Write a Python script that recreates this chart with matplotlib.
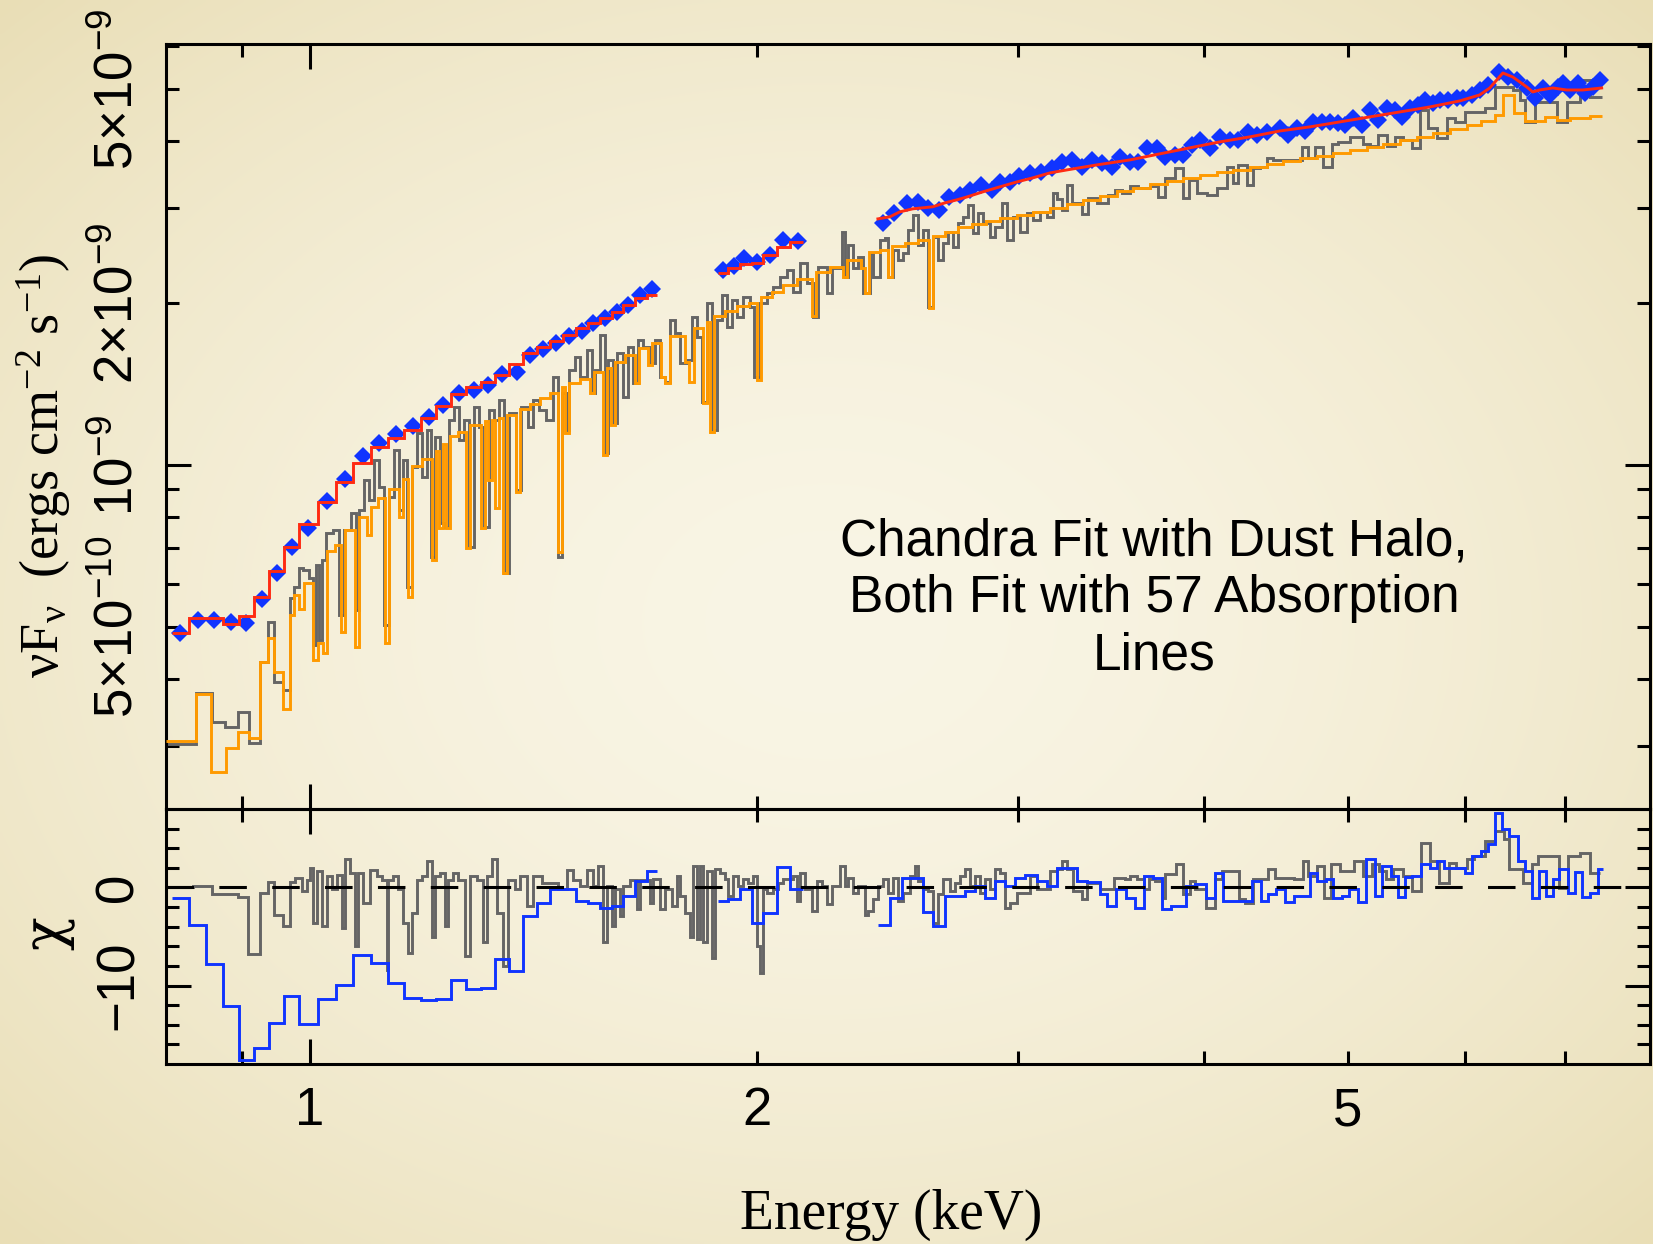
import numpy as np
import matplotlib
matplotlib.use("Agg")
import matplotlib.pyplot as plt
from matplotlib.ticker import FixedLocator, FuncFormatter, NullFormatter

plt.rcParams['mathtext.fontset'] = 'custom'
plt.rcParams['mathtext.rm'] = 'Liberation Serif'
plt.rcParams['mathtext.it'] = 'Liberation Serif:italic'
plt.rcParams['mathtext.sf'] = 'Liberation Sans'
plt.rcParams['font.family'] = ['Liberation Sans', 'DejaVu Sans']

# ---------------- data (energy in keV, flux in 1e-9 erg cm^-2 s^-1) ----------------
# first instrument data (blue diamonds), three segments
blue1_E = [0.818, 0.841, 0.862, 0.885, 0.906, 0.928, 0.950, 0.973, 0.997, 1.027, 1.056, 1.086, 1.113, 1.143,
           1.173, 1.203, 1.229, 1.260, 1.289, 1.318, 1.347, 1.378, 1.406, 1.435, 1.465, 1.494, 1.525, 1.551,
           1.580, 1.609, 1.638, 1.669, 1.699]
blue1_F = [0.487, 0.515, 0.515, 0.511, 0.508, 0.564, 0.630, 0.704, 0.764, 0.857, 0.942, 1.039, 1.099, 1.142,
           1.182, 1.228, 1.293, 1.360, 1.378, 1.408, 1.476, 1.489, 1.601, 1.643, 1.686, 1.737, 1.775, 1.836,
           1.876, 1.925, 1.984, 2.070, 2.124]
blue1_edges = [0.807, 0.829, 0.851, 0.874, 0.896, 0.917, 0.938, 0.960, 0.983, 1.012, 1.041, 1.069, 1.099,
               1.129, 1.157, 1.188, 1.216, 1.244, 1.274, 1.304, 1.332, 1.362, 1.391, 1.422, 1.451, 1.480,
               1.511, 1.539, 1.567, 1.597, 1.625, 1.656, 1.686, 1.713]
red1_F = [0.487, 0.518, 0.518, 0.506, 0.524, 0.568, 0.635, 0.704, 0.777, 0.854, 0.930, 1.009, 1.080, 1.122,
          1.162, 1.223, 1.287, 1.355, 1.396, 1.427, 1.470, 1.541, 1.615, 1.657, 1.700, 1.745, 1.798, 1.836,
          1.876, 1.925, 1.984, 2.043, 2.070]
resid1 = [-1.05, -3.8, -7.8, -12.1, -17.6, -16.4, -13.8, -11.1, -13.9, -11.4, -9.9, -6.9, -7.7, -9.7, -11.3,
          -11.5, -11.4, -9.4, -10.4, -10.3, -7.3, -8.5, -2.9, -1.6, -0.2, -0.2, -1.4, -1.6, -2.07, -1.9,
          -0.88, 0.65, 1.67]

blue2_E = [1.897, 1.930, 1.960, 2.000, 2.041, 2.083, 2.131]
blue2_F = [2.303, 2.343, 2.424, 2.383, 2.455, 2.619, 2.608]
blue2_edges = [1.883, 1.912, 1.948, 1.984, 2.018, 2.062, 2.105, 2.148]
red2_F = [2.276, 2.323, 2.363, 2.373, 2.455, 2.541, 2.597]
resid2 = [-1.4, -1.2, -0.2, -3.6, -2.6, 2.1, -0.2]

blue3_E = [2.431, 2.473, 2.523, 2.567, 2.607, 2.652, 2.693, 2.739, 2.782, 2.830, 2.879, 2.915, 2.961, 3.002,
           3.054, 3.107, 3.160, 3.209, 3.260, 3.311, 3.362, 3.415, 3.468, 3.512, 3.567, 3.611, 3.662, 3.719,
           3.765, 3.823, 3.871, 3.925, 3.975, 4.037, 4.100, 4.164, 4.216, 4.281, 4.342, 4.410, 4.500, 4.556,
           4.619, 4.677, 4.736, 4.802, 4.862, 4.923, 4.977, 5.039, 5.110, 5.174, 5.239, 5.313, 5.378, 5.437,
           5.504, 5.573, 5.634, 5.704, 5.766, 5.838, 5.920, 5.975, 6.060, 6.135, 6.213, 6.320, 6.408, 6.498,
           6.600, 6.682, 6.766, 6.840, 6.925, 6.980, 7.055, 7.144, 7.222, 7.311, 7.391]
blue3_F = [2.818, 2.941, 3.069, 3.083, 3.005, 2.979, 3.148, 3.176, 3.245, 3.315, 3.245, 3.357, 3.357, 3.445,
           3.489, 3.504, 3.565, 3.658, 3.689, 3.580, 3.689, 3.642, 3.580, 3.737, 3.658, 3.658, 3.884, 3.884,
           3.737, 3.770, 3.770, 3.934, 4.019, 3.884, 4.071, 4.019, 4.019, 4.159, 4.106, 4.159, 4.231, 4.106,
           4.231, 4.176, 4.341, 4.341, 4.341, 4.322, 4.285, 4.416, 4.285, 4.570, 4.378, 4.609, 4.570, 4.435,
           4.609, 4.668, 4.769, 4.709, 4.769, 4.769, 4.810, 4.810, 4.872, 4.977, 5.085, 5.376, 5.262, 5.195,
           5.020, 4.810, 5.020, 4.872, 5.041, 5.129, 4.977, 5.129, 4.914, 5.041, 5.195]
red3_E = [2.413, 2.458, 2.496, 2.547, 2.627, 2.677, 2.727, 2.770, 2.839, 2.915, 2.993, 3.068, 3.150, 3.234,
          3.388, 3.567, 3.736, 3.913, 4.100, 4.295, 4.500, 4.714, 4.939, 5.174, 5.420, 5.678, 5.948, 6.135,
          6.232, 6.300, 6.360, 6.458, 6.529, 6.600, 6.662, 6.734, 6.871, 7.022, 7.199, 7.413]
red3_F = [2.866, 2.891, 2.953, 2.992, 3.018, 3.069, 3.109, 3.148, 3.217, 3.287, 3.357, 3.416, 3.489, 3.534,
          3.611, 3.689, 3.786, 3.884, 3.985, 4.071, 4.176, 4.249, 4.341, 4.435, 4.530, 4.628, 4.749, 4.872,
          5.020, 5.195, 5.353, 5.262, 5.151, 5.041, 4.935, 4.977, 5.020, 4.977, 4.977, 5.020]
resid3_edges = [2.413, 2.458, 2.504, 2.587, 2.627, 2.676, 2.761, 2.804, 2.848, 2.893, 2.938, 2.984, 3.031,
                3.088, 3.136, 3.185, 3.285, 3.337, 3.404, 3.441, 3.490, 3.544, 3.594, 3.645, 3.696, 3.748,
                3.800, 3.890, 3.944, 4.012, 4.069, 4.120, 4.190, 4.309, 4.369, 4.416, 4.472, 4.534, 4.599,
                4.663, 4.714, 4.765, 4.833, 4.885, 4.954, 5.008, 5.079, 5.142, 5.214, 5.271, 5.345, 5.404,
                5.462, 5.522, 5.600, 5.678, 5.740, 5.803, 5.848, 5.931, 5.995, 6.060, 6.145, 6.213, 6.280,
                6.348, 6.417, 6.508, 6.579, 6.651, 6.724, 6.797, 6.871, 6.935, 7.033, 7.109, 7.187, 7.277,
                7.368, 7.425]
resid3 = [-3.8, -1.05, 0.99, -2.5, -3.9, -0.88, -0.37, 0.14, -1.05, 0.65, 0.14, 0.99, 1.3, 0.65, 0.14, 2.0,
          0.65, 0.55, -0.71, -1.84, -0.2, -1.05, -2.07, 1.16, 0.99, -2.18, -1.84, 0.14, 0.31, -1.05, 1.5,
          -1.39, -1.39, 0.65, -1.39, -0.71, -0.2, -1.5, -0.88, -0.88, 1.5, 0.65, 0.82, -1.05, -0.88, -0.2,
          -1.5, 2.9, -0.88, 2.15, 1.16, -0.95, 1.09, 1.16, 2.35, 2.0, 2.69, 2.0, 2.0, 2.0, 1.5, 3.2, 3.71,
          4.39, 7.62, 5.92, 5.24, 2.69, 1.67, -1.05, 1.67, -0.9, 0.82, 1.84, -0.54, 1.6, -0.95, -0.54, 1.84]

# Chandra data (gray histogram)
chandra_edges = [
    0.800, 0.838, 0.859, 0.877, 0.894, 0.910, 0.925, 0.937, 0.946, 0.959, 0.969, 0.975, 0.983, 0.989, 0.998,
    1.005, 1.009, 1.014, 1.019, 1.025,
    1.036, 1.046, 1.054, 1.066, 1.074, 1.079, 1.087, 1.096, 1.104, 1.113,
    1.121, 1.130, 1.139, 1.148, 1.155, 1.162, 1.171, 1.180, 1.190, 1.199,
    1.206, 1.214, 1.223, 1.231, 1.240, 1.250, 1.260, 1.270, 1.280, 1.290,
    1.300, 1.310, 1.320, 1.330, 1.341, 1.351, 1.362, 1.376, 1.387, 1.402,
    1.413, 1.426, 1.442, 1.458, 1.469, 1.478, 1.489, 1.494, 1.508, 1.520,
    1.536, 1.548, 1.555, 1.567, 1.580, 1.587, 1.600, 1.610, 1.625, 1.637,
    1.650, 1.663, 1.676, 1.694, 1.708, 1.721, 1.734, 1.748, 1.762, 1.775,
    1.795, 1.809, 1.823, 1.837, 1.851, 1.866, 1.880, 1.894, 1.909, 1.924,
    1.939, 1.957, 1.978, 1.992, 2.009, 2.031, 2.050, 2.073, 2.095, 2.115,
    2.138, 2.161, 2.182, 2.198, 2.229, 2.246, 2.281, 2.292, 2.303, 2.321,
    2.339, 2.357, 2.383, 2.394, 2.420, 2.439, 2.451, 2.470, 2.489, 2.508,
    2.528, 2.547, 2.567, 2.587, 2.607, 2.627, 2.648, 2.668, 2.689, 2.710,
    2.731, 2.753, 2.774, 2.796, 2.818, 2.839, 2.870, 2.893, 2.924, 2.947,
    2.975, 3.007, 3.040, 3.068, 3.102, 3.136, 3.165, 3.185, 3.209, 3.234,
    3.260, 3.311, 3.342, 3.388, 3.447, 3.484, 3.522, 3.566, 3.611, 3.679,
    3.724, 3.765, 3.823, 3.872, 3.908, 3.957, 4.019, 4.081, 4.145, 4.183,
    4.216, 4.275, 4.315, 4.362, 4.410, 4.451, 4.656,
    4.699, 4.751, 4.810, 4.878, 4.923, 5.016, 5.071, 5.118, 5.174, 5.239,
    5.312, 5.378, 5.445, 5.522, 5.591, 5.660, 5.740, 5.830, 5.903, 5.995,
    6.070, 6.183, 6.280, 6.329, 6.458, 6.529, 6.579, 6.682, 6.766, 6.914,
    7.022, 7.165, 7.277, 7.413]
chandra_F = [
    0.302, 0.377, 0.332, 0.326, 0.347, 0.304, 0.429, 0.511, 0.395, 0.382, 0.566, 0.593, 0.644, 0.638, 0.617,
    0.463, 0.652, 0.473, 0.666,
    0.748, 0.757, 0.526, 0.757, 0.814, 0.538, 0.825, 0.938, 0.861, 1.022,
    0.910, 0.504, 0.872, 1.066, 0.825, 1.022, 0.593, 0.992, 1.147, 0.950,
    1.162, 0.675, 1.127, 0.780, 0.767, 1.212, 1.282, 1.113, 1.212, 0.704,
    1.282, 1.177, 0.767, 1.265, 1.212, 1.321, 0.630, 1.249, 0.899, 1.282,
    1.177, 1.321, 1.265, 1.212, 1.458, 0.675, 1.361, 1.162, 1.502, 1.588,
    1.458, 1.636, 1.361, 1.502, 1.745, 1.053, 1.567, 1.197, 1.615, 1.338,
    1.657, 1.420, 1.707, 1.657, 1.547, 1.707, 1.458, 1.426, 1.860, 1.759,
    1.547, 1.567, 1.884, 1.729, 1.309, 2.001, 1.162, 1.860, 2.070, 1.805,
    2.026, 1.884, 2.053, 1.966, 1.458, 2.001, 2.088, 2.142, 2.236, 2.304,
    2.097, 2.374, 2.179, 1.884, 2.334, 2.088, 2.324, 2.711, 2.236, 2.564,
    2.324, 2.436, 2.088, 2.478, 2.236, 2.619, 2.642, 2.236, 2.510, 2.405,
    2.478, 2.734, 2.915, 2.564, 2.734, 1.966, 2.653, 2.405, 2.586, 2.711,
    2.542, 2.818, 2.891, 3.042, 2.699, 2.941, 2.818, 2.653, 2.769, 3.069,
    2.619, 2.891, 2.711, 2.941, 2.853, 2.953, 2.891, 3.203, 3.122, 2.979,
    3.315, 3.069, 2.928, 3.135, 3.069, 3.176, 3.245, 3.203, 3.301, 3.272,
    3.301, 3.148, 3.416, 3.565, 3.135, 3.386, 3.203, 3.176, 3.272, 3.580,
    3.344, 3.611, 3.315, 3.565, 3.580, 3.721, 3.689,
    3.900, 3.721, 3.900, 3.580, 3.951, 3.985, 4.071, 4.071, 3.951, 3.917,
    4.106, 3.917, 4.071, 4.019, 3.884, 4.570, 4.231, 4.054, 4.416, 4.341,
    4.530, 4.530, 4.609, 5.041, 5.041, 4.977, 4.769, 4.341, 4.728, 4.728,
    4.341, 4.728, 5.195, 4.831]

# Chandra model (orange histogram, with absorption lines)
model_edges = [
    0.800, 0.838, 0.858, 0.878, 0.894, 0.910, 0.925, 0.937, 0.946, 0.959,
    0.969, 0.975, 0.983, 0.991, 1.005, 1.012, 1.020, 1.027, 1.039, 1.049,
    1.056, 1.072, 1.079, 1.092, 1.099, 1.111, 1.123, 1.130, 1.148, 1.155,
    1.164, 1.171, 1.190, 1.208, 1.216, 1.222, 1.229, 1.235, 1.242, 1.258,
    1.274, 1.282, 1.304, 1.312, 1.318, 1.326, 1.332, 1.341, 1.349, 1.357,
    1.376, 1.385, 1.406, 1.428, 1.451, 1.469, 1.478, 1.485, 1.494, 1.520,
    1.544, 1.553, 1.575, 1.585, 1.595, 1.605, 1.630, 1.656, 1.666, 1.689,
    1.700, 1.723, 1.734, 1.748, 1.789, 1.800, 1.814, 1.840, 1.851, 1.860,
    1.871, 1.903, 1.939, 1.975, 2.000, 2.012, 2.047, 2.082, 2.128, 2.178,
    2.192, 2.239, 2.285, 2.299, 2.350, 2.364, 2.379, 2.420, 2.451, 2.466,
    2.516, 2.567, 2.611, 2.627, 2.676, 2.731, 2.791, 2.852, 2.915, 2.993,
    3.068, 3.150, 3.234, 3.316, 3.404, 3.495, 3.583, 3.679, 3.777, 3.872,
    3.975, 4.081, 4.183, 4.295, 4.410, 4.520, 4.642, 4.765, 4.885, 5.016,
    5.150, 5.280, 5.420, 5.565, 5.704, 5.857, 6.013, 6.145, 6.280, 6.358,
    6.468, 6.579, 6.786, 6.914, 7.055, 7.277, 7.413]
model_F = [
    0.306, 0.374, 0.268, 0.297, 0.318, 0.311, 0.429, 0.477, 0.412, 0.352,
    0.526, 0.573, 0.540, 0.604, 0.434, 0.467, 0.447, 0.692, 0.710, 0.489,
    0.757, 0.459, 0.800, 0.741, 0.835, 0.868, 0.467, 0.902, 0.800, 0.942,
    0.568, 0.996, 1.026, 0.666, 1.062, 0.764, 1.094, 0.764, 1.132, 1.152,
    0.701, 1.187, 0.764, 1.207, 0.938, 1.212, 0.832, 1.223, 0.630, 1.239,
    0.891, 1.271, 1.299, 1.332, 1.361, 0.689, 1.396, 1.147, 1.420, 1.445,
    1.361, 1.489, 1.044, 1.514, 1.187, 1.554, 1.602, 1.420, 1.650, 1.534,
    1.686, 1.458, 1.420, 1.737, 1.554, 1.426, 1.797, 1.304, 1.844, 1.152,
    1.892, 1.933, 1.975, 2.001, 1.439, 2.053, 2.097, 2.161, 2.217, 1.892,
    2.285, 2.334, 2.236, 2.405, 2.324, 2.088, 2.489, 2.510, 2.236, 2.553,
    2.586, 2.619, 1.958, 2.665, 2.711, 2.769, 2.805, 2.841, 2.878, 2.915,
    2.953, 3.005, 3.056, 3.109, 3.162, 3.230, 3.272, 3.329, 3.372, 3.416,
    3.459, 3.504, 3.534, 3.580, 3.627, 3.674, 3.721, 3.753, 3.801, 3.850,
    3.900, 3.951, 4.019, 4.071, 4.141, 4.212, 4.285, 4.359, 4.472, 4.872,
    4.511, 4.359, 4.435, 4.378, 4.416, 4.454]

# Chandra residuals (gray, chi)
chandra_res_edges = [
    0.801, 0.834, 0.859, 0.894, 0.908, 0.925, 0.937, 0.946, 0.959, 0.969, 0.977, 0.988, 0.995, 1.000, 1.005,
    1.011, 1.019, 1.027, 1.035, 1.043, 1.051, 1.056, 1.064, 1.072, 1.077, 1.086, 1.098, 1.110, 1.118, 1.127,
    1.129, 1.137, 1.146, 1.155, 1.164, 1.171, 1.180, 1.190, 1.199, 1.208, 1.214, 1.223, 1.233, 1.239, 1.248,
    1.258, 1.272, 1.282, 1.296, 1.307, 1.316, 1.326, 1.336, 1.349, 1.359, 1.374, 1.385, 1.400, 1.413, 1.433,
    1.451, 1.469, 1.489, 1.504, 1.520, 1.536, 1.551, 1.563, 1.575, 1.585, 1.597, 1.605, 1.617, 1.625, 1.643,
    1.661, 1.669, 1.694,
    1.702, 1.721, 1.734, 1.753, 1.767, 1.775, 1.789, 1.804, 1.812, 1.823, 1.831, 1.840, 1.851, 1.866, 1.874,
    1.888, 1.903, 1.912, 1.927, 1.942, 1.957, 1.972, 1.987, 2.000, 2.009, 2.018, 2.031, 2.050, 2.066, 2.082,
    2.099, 2.115, 2.128, 2.138, 2.154, 2.178, 2.195, 2.212, 2.229, 2.246, 2.275, 2.292, 2.303, 2.321, 2.339,
    2.364, 2.375, 2.394, 2.413, 2.431, 2.451, 2.470, 2.489, 2.508, 2.535, 2.555, 2.567, 2.587, 2.607, 2.627,
    2.648, 2.668, 2.698, 2.719, 2.740, 2.761, 2.783, 2.804, 2.826, 2.848, 2.870, 2.893, 2.915, 2.938, 2.961,
    2.993, 3.021, 3.054, 3.088, 3.116, 3.150, 3.185, 3.209, 3.234, 3.265, 3.311, 3.337, 3.368, 3.404,
    3.478, 3.538, 3.566, 3.605, 3.645, 3.673, 3.707, 3.748, 3.765, 3.830, 3.872, 3.914, 3.944, 4.012, 4.069,
    4.113, 4.170, 4.222, 4.262, 4.315, 4.369, 4.416, 4.465, 4.520, 4.599, 4.663, 4.699, 4.765, 4.818, 4.870,
    4.939, 5.047, 5.118, 5.190, 5.246, 5.303, 5.361, 5.445, 5.522, 5.600, 5.678, 5.758, 5.848, 5.912, 6.013,
    6.079, 6.183, 6.280, 6.368, 6.417, 6.478, 6.559, 6.651, 6.713, 6.797, 6.935, 7.033, 7.165, 7.277, 7.391]
chandra_res = [
    0.0, 0.2, -0.7, -0.95, -6.8, -0.6, 0.6, -2.8, -3.9, 0.6, 1.0, -0.4, 0.8, 2.0, -3.6, 1.7, -3.9, 1.2, -0.2,
    1.3, -4.1, 2.9, 1.5, -6.0, 1.5, -1.6, 1.8, 1.2, 0.8, -8.4, 0.8, 1.2, -0.2, -3.6, -6.7, -2.6, 0.8, 1.2,
    2.7, -5.0, 1.2, 1.5, -3.9, 0.8, 1.5, 0.8, -7.0, 1.2, 0.8, -5.6, 1.2, 2.9, -2.6, -8.0, 0.8, -0.2, 1.2,
    -1.9, 1.2, 0.5, 0.5, -0.2, 1.8, 0.8, 0.1, 1.8, 0.1, 2.2, -5.6, 0.1, -3.9, -0.2, -2.9, 0.1, 0.8, -2.2, 0.8,
    -1.56, 0.82, -2.24, -0.2, -1.9, 1.16, -0.88, -2.59, -5.1, 2.2, -5.3, 2.2, -5.6, 1.67, -7.17, 1.84, 1.5,
    0.82, -0.88, 1.16, 0.14, 0.82, 0.48, 1.16, -5.98, -8.7, -0.2, -0.54, -0.2, 0.48, 0.82, 0.82, 1.16, -1.39,
    1.5, -0.2, -2.41, 0.65, 0.14, -1.73, 0.14, 2.2, 0.14, 0.99, -0.54, 0.14, -2.76, -2.41, -1.22, 0.14, 0.82,
    -0.54, 0.99, -1.39, -0.54, 1.16, 2.2, 0.65, -0.2, -0.37, -3.6, -0.71, 0.82, -0.37, 0.48, 1.16, 1.84,
    0.14, 1.16, -0.54, 0.82, -0.2, 1.84, 1.5, -2.07, -1.56, -0.54, -0.54, 1.16, -0.2, -0.2, 1.67, 1.84,
    2.69, 1.84, -0.37, -1.22, 0.48, 0.48,
    -0.2, 0.99, 0.82, 1.16, 0.82, -0.2, 0.82, 0.65, -1.05, 1.33, 2.35, -0.71, 0.65, -0.2, -2.07, 0.82, 1.67,
    1.67, -1.22, -1.56, 0.82, 0.82, 1.84, 0.99, 0.99, 0.82, 2.69, 1.16, 2.2, -1.05, 2.35, 1.67, 2.69, 1.16,
    2.35, 1.67, 0.82, 1.84, 1.16, -0.37, 4.56, 2.69, 0.48, 2.52, 2.0, 2.86, 3.2, 4.73, 5.75, 4.9, 1.84, 1.84,
    0.48, 2.35, 3.2, 3.2, -0.03, 3.2, 3.54, 1.5]

x_ticks_major = [1.0]
x_ticks_minor = [0.9, 2, 3, 4, 5, 6, 7]
x_labels = {1: '1', 2: '2', 5: '5'}
y_ticks_major = [1e-9]
y_ticks_minor = [3e-10, 4e-10, 5e-10, 6e-10, 7e-10, 8e-10, 9e-10, 2e-9, 3e-9, 4e-9, 5e-9, 6e-9]
y_labels = {5e-10: r'$\mathsf{5{\times}10^{-10}}$', 1e-9: r'$\mathsf{10^{-9}}$',
            2e-9: r'$\mathsf{2{\times}10^{-9}}$', 5e-9: r'$\mathsf{5{\times}10^{-9}}$'}
chi_ticks_major = [-10, 0]
chi_ticks_minor = [-16, -14, -12, -8, -6, -4, -2, 2, 4, 6]
chi_labels = {0: '0', -10: '\u221210'}

annotation = "Chandra Fit with Dust Halo,\nBoth Fit with 57 Absorption\nLines"

# ---------------- styling ----------------
BLUE = '#1034FF'
RED = '#FF2A12'
ORANGE = '#FF9A00'
GRAY = '#656565'
SC = 1e-9
W, H = 1653, 1244

fig = plt.figure(figsize=(W / 100, H / 100), dpi=100)

# vignette background
bg = fig.add_axes([0, 0, 1, 1], zorder=-10)
yy, xx = np.mgrid[0:1:300j, 0:1:400j]
r = np.sqrt(((xx - 0.5) / 0.5) ** 2 + ((yy - 0.5) / 0.5) ** 2) / np.sqrt(2)
c0 = np.array([249, 245, 229]) / 255.0
c1 = np.array([233, 222, 182]) / 255.0
t = np.clip(r, 0, 1) ** 1.7
img = c0[None, None, :] * (1 - t[..., None]) + c1[None, None, :] * t[..., None]
bg.imshow(img, aspect='auto', extent=[0, 1, 0, 1], interpolation='bilinear')
bg.axis('off')

L, R = 166 / W, 1650 / W
ax1 = fig.add_axes([L, 1 - 809 / H, R - L, (809 - 44) / H])
ax2 = fig.add_axes([L, 1 - 1064 / H, R - L, (1064 - 809) / H])
for ax in (ax1, ax2):
    ax.set_facecolor('none')
    for s in ax.spines.values():
        s.set_linewidth(2.2)

lw = 2.1
ax1.stairs(np.array(chandra_F) * SC, chandra_edges, color=GRAY, lw=lw, baseline=None, zorder=2)
ax1.stairs(np.array(model_F) * SC, model_edges, color=ORANGE, lw=lw, baseline=None, zorder=3)
for E, F in ((blue1_E, blue1_F), (blue2_E, blue2_F), (blue3_E, blue3_F)):
    ax1.plot(E, np.array(F) * SC, ls='none', marker='D', ms=8.8, mew=0, color=BLUE, zorder=4)
ax1.stairs(np.array(red1_F) * SC, blue1_edges, color=RED, lw=lw, baseline=None, zorder=5)
ax1.stairs(np.array(red2_F) * SC, blue2_edges, color=RED, lw=lw, baseline=None, zorder=5)
ax1.plot(red3_E, np.array(red3_F) * SC, color=RED, lw=lw, zorder=5)

ax1.set_yscale('log')
ax1.set_ylim(2.29e-10, 6.06e-9)

ax2.stairs(chandra_res, chandra_res_edges, color=GRAY, lw=lw, baseline=None, zorder=2)
ax2.stairs(resid1, blue1_edges, color=BLUE, lw=lw, baseline=None, zorder=3)
ax2.stairs(resid2, blue2_edges, color=BLUE, lw=lw, baseline=None, zorder=3)
ax2.stairs(resid3, resid3_edges, color=BLUE, lw=lw, baseline=None, zorder=3)
ax2.axhline(0, color='black', lw=2.2, dashes=(9, 8.3), zorder=4)
ax2.set_ylim(-18, 8)

# ticks
for ax in (ax1, ax2):
    ax.set_xscale('log')
    ax.set_xlim(0.8, 7.99)
    ax.xaxis.set_major_locator(FixedLocator(x_ticks_major))
    ax.xaxis.set_minor_locator(FixedLocator(x_ticks_minor))
    ax.tick_params(which='both', direction='in', top=True, right=True, width=2.2, colors='black',
                   labelsize=38, pad=16)
    ax.tick_params(which='major', length=18)
    ax.tick_params(which='minor', length=9.5)

ax1.xaxis.set_major_formatter(NullFormatter())
ax1.xaxis.set_minor_formatter(NullFormatter())
ax1.tick_params(axis='x', which='both', labelbottom=False)
xfmt_major = FuncFormatter(lambda v, p: x_labels.get(int(round(v)), '') if abs(v - round(v)) < 1e-6 else '')
xfmt_minor = FuncFormatter(lambda v, p: x_labels.get(int(round(v)), '') if abs(v - round(v)) < 1e-6 else '')
ax2.xaxis.set_major_formatter(xfmt_major)
ax2.xaxis.set_minor_formatter(xfmt_minor)


def yfmt(v, p):
    for k, s in y_labels.items():
        if abs(v - k) / k < 1e-6:
            return s
    return ''


ax1.yaxis.set_major_locator(FixedLocator(y_ticks_major))
ax1.yaxis.set_minor_locator(FixedLocator(y_ticks_minor))
ax1.yaxis.set_major_formatter(FuncFormatter(yfmt))
ax1.yaxis.set_minor_formatter(FuncFormatter(yfmt))
ax1.tick_params(axis='y', which='both', labelrotation=90)

ax2.yaxis.set_major_locator(FixedLocator(chi_ticks_major))
ax2.yaxis.set_minor_locator(FixedLocator(chi_ticks_minor))
ax2.yaxis.set_major_formatter(FuncFormatter(lambda v, p: chi_labels.get(int(round(v)), '')))
ax2.yaxis.set_minor_formatter(NullFormatter())
ax2.tick_params(axis='y', which='both', labelrotation=90)

for ax in (ax1, ax2):
    for tk in ax.yaxis.get_major_ticks() + ax.yaxis.get_minor_ticks():
        tk.label1.set_verticalalignment('center')

# labels
fig.text(44 / W, 1 - 466 / H, r'νF$_{\mathrm{\nu}}$  (ergs cm$^{-2}$ s$^{-1}$)', rotation=90,
         ha='center', va='center', fontsize=39, family=['Liberation Serif', 'DejaVu Serif'])
fig.text(48 / W, 1 - 933 / H, 'χ', rotation=90, ha='center', va='center', fontsize=40,
         family=['DejaVu Serif'])
fig.text(891 / W, 1 - 1229 / H, 'Energy (keV)', ha='center', va='baseline', fontsize=40,
         family=['Liberation Serif', 'DejaVu Serif'])
fig.text(1154 / W, 1 - 517 / H, annotation, ha='center', va='top', multialignment='center',
         fontsize=37, linespacing=1.22, family=['Liberation Sans', 'DejaVu Sans'])

fig.savefig('out.png', dpi=100)
